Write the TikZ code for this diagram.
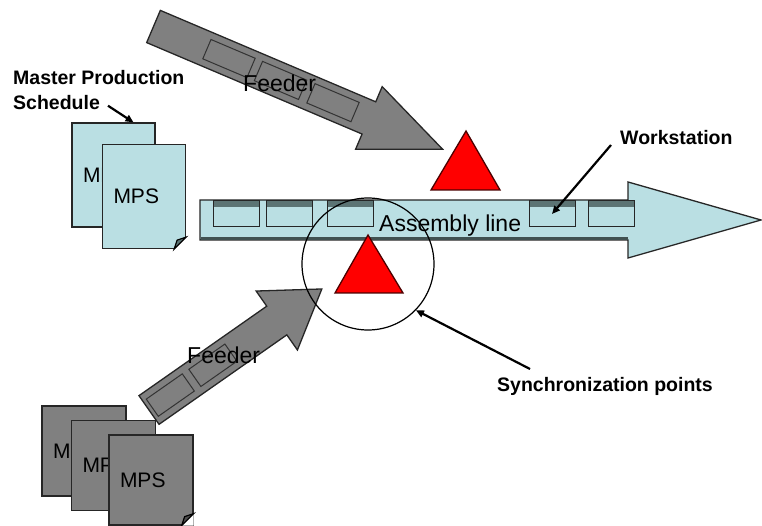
\documentclass[tikz,border=0pt]{standalone}
\usepackage{fontspec}
\setmainfont{Liberation Sans}
\usetikzlibrary{arrows.meta}
\definecolor{lineblue}{RGB}{186,223,227}
\definecolor{feedgray}{RGB}{128,128,128}
\definecolor{wsdark}{RGB}{92,116,116}
\definecolor{syncred}{RGB}{255,0,0}
\begin{document}
\begin{tikzpicture}[
        x=1pt, y=-1pt,
        every node/.style={font=\fontsize{21}{25}\selectfont},
        % Box Styles
        docbox/.style={
            rectangle,
            draw=black!85,
            line width=1.2pt,
            align=left,
            inner xsep=11pt,
            inner ysep=0pt
        },
        bluedoc/.style={
            docbox,
            fill=lineblue,
            text width=61pt,
            minimum height=104pt
        },
        graydoc/.style={
            docbox,
            fill=feedgray,
            text width=62pt,
            minimum height=90pt
        },
        wsbox/.style={
            rectangle,
            draw=black!85,
            line width=1pt,
            fill=lineblue,
            minimum width=46pt,
            minimum height=26pt,
            inner sep=0pt,
            path picture={\fill[wsdark] (path picture bounding box.north west) rectangle ([yshift=-6pt]path picture bounding box.north east);}
        },
        feedbox/.style={
            rectangle,
            draw=black!80,
            line width=1pt,
            minimum width=48pt,
            minimum height=21pt,
            inner sep=0pt
        },
        blockarrow/.style={draw=black!85, line width=1.3pt, line join=miter},
        trimark/.style={fill=syncred, draw=black!70!red, line width=1.3pt},
        lbl/.style={font=\bfseries\fontsize{19.5}{25}\selectfont, inner sep=0pt},
        plain/.style={font=\fontsize{23}{25}\selectfont, inner sep=0pt},
        % Connector Styles
        pointer/.style={-{Triangle[length=8pt,width=7pt]}, line width=2.2pt, draw=black}
    ]
    \useasboundingbox (0,0) rectangle (762,526);

    % --- Assembly line (main arrow) ---
    \draw[blockarrow, fill=lineblue] (200,200) -- (628,200) -- (628,182) -- (761,220)
        -- (628,258) -- (628,240) -- (200,240) -- cycle;
    \draw[wsdark!70!black, line width=3pt] (201,238.5) -- (628,238.5);
    \foreach \x [count=\i] in {236.5,289,350.5,552,611}
        \node[wsbox] (ws\i) at (\x,214) {};
    \node[plain, anchor=base west] (asmlbl) at (379,232) {Assembly line};

    % --- Lower feeder ---
    \begin{scope}[shift={(149,410)}, rotate=35, transform shape]
        \draw[blockarrow, fill=feedgray] (0,-17.5) -- (156,-17.5) -- (156,-36) -- (211,0)
            -- (156,36) -- (156,17.5) -- (0,17.5) -- cycle;
        \node[feedbox, minimum width=44pt] (fl1) at (26,0) {};
        \node[feedbox, minimum width=44pt] (fl2) at (78,0) {};
    \end{scope}
    \node[plain, anchor=base west] (feedlowlbl) at (187,363) {Feeder};

    % --- Upper feeder ---
    \begin{scope}[shift={(153.5,26.5)}, rotate=-23, transform shape]
        \draw[blockarrow, fill=feedgray] (0,-17.5) -- (234,-17.5) -- (234,-34) -- (314,0)
            -- (234,34) -- (234,17.5) -- (0,17.5) -- cycle;
        \foreach \t [count=\i] in {82,138,195}
            \node[feedbox] (ft\i) at (\t,0) {};
    \end{scope}
    \node[plain, anchor=base west] (feedtoplbl) at (243,92) {Feeder};

    % --- MPS documents ---
    \node[graydoc] (mpsg1) at (84,451) {MPS};
    \node[graydoc] (mpsg2) at (113.5,465.5) {MPS};
    \node[graydoc] (mpsg3) at (151,480) {MPS};
    \fill[white] (mpsg3.south east) -- ++(-12,0) -- ++(12,-12) -- cycle;
    \draw[line width=1.2pt, fill=feedgray!60!black] ([xshift=-12pt]mpsg3.south east)
        -- ([yshift=12pt]mpsg3.south east) -- ([shift={(-9,-9)}]mpsg3.south east) -- cycle;

    \node[bluedoc] (mpsb1) at (113.5,175) {MPS};
    \node[bluedoc] (mpsb2) at (144,196.5) {MPS};
    \fill[white] (mpsb2.south east) -- ++(-12,0) -- ++(12,-12) -- cycle;
    \draw[line width=1.2pt, fill=wsdark] ([xshift=-12pt]mpsb2.south east)
        -- ([yshift=12pt]mpsb2.south east) -- ([shift={(-9,-9)}]mpsb2.south east) -- cycle;

    % --- Synchronization points ---
    \filldraw[trimark] (466,131) -- (500,190) -- (431,190) -- cycle;
    \filldraw[trimark] (368,235) -- (403,293) -- (335,293) -- cycle;
    \node[circle, draw=black, line width=1.2pt, minimum size=132pt, inner sep=0pt] (syncring) at (368,264) {};

    % --- Labels ---
    \node[lbl, anchor=north west, align=left] (mpslbl) at (13,70) {Master Production\\Schedule};
    \node[lbl, anchor=base west] (wslbl) at (620,145) {Workstation};
    \node[lbl, anchor=base west] (synclbl) at (497,391) {Synchronization points};

    % --- Pointers ---
    \draw[pointer] ([shift={(95,-4)}]mpslbl.south west) -- ([xshift=20pt]mpsb1.north);
    \draw[pointer] ([xshift=-9pt]wslbl.base west) -- (ws4.center);
    \draw[pointer] ([shift={(33,-22)}]synclbl.base west) -- (syncring.-44);

\end{tikzpicture}
\end{document}
